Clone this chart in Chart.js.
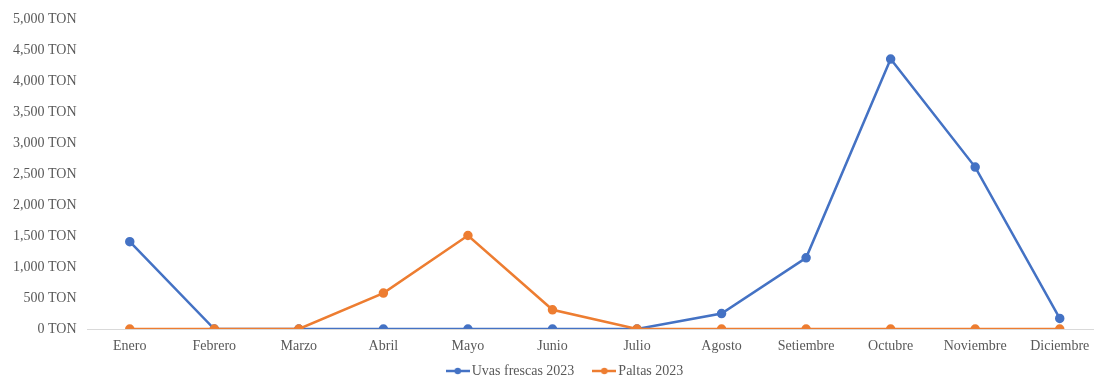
<!DOCTYPE html>
<html>
<head>
<meta charset="utf-8">
<script src="https://cdn.jsdelivr.net/npm/chart.js@4.4.1/dist/chart.umd.min.js"></script>
<style>
  html, body { margin: 0; padding: 0; background: #fff; overflow: hidden; }
  #wrap { width: 1108px; height: 404px; }
</style>
</head>
<body>
<div id="wrap"><canvas id="chart" width="1108" height="404"></canvas></div>
<script>
// Monthly tonnage, 2023
const months = ['Enero', 'Febrero', 'Marzo', 'Abril', 'Mayo', 'Junio', 'Julio', 'Agosto', 'Setiembre', 'Octubre', 'Noviembre', 'Diciembre'];
const uvas = [1410, 0, 0, 0, 0, 0, 0, 250, 1150, 4360, 2615, 170];
const paltas = [0, 0, 0, 580, 1510, 310, 0, 0, 0, 0, 0, 0];
const seriesNames = ['Uvas frescas 2023', 'Paltas 2023'];
const yTicks = [0, 500, 1000, 1500, 2000, 2500, 3000, 3500, 4000, 4500, 5000];

const BLUE = '#4472C4';
const ORANGE = '#ED7D31';
const TEXT = '#595959';
const FONT = { family: '"Liberation Serif", "DejaVu Serif", serif', size: 14 };

// Legend swatch: short line with a dot in the middle
function lineMarker(color) {
  const c = document.createElement('canvas');
  c.width = 24; c.height = 8;
  const g = c.getContext('2d');
  g.strokeStyle = color; g.lineWidth = 2.5;
  g.beginPath(); g.moveTo(0, 4); g.lineTo(24, 4); g.stroke();
  g.fillStyle = color;
  g.beginPath(); g.arc(12, 4, 3.2, 0, Math.PI * 2); g.fill();
  return c;
}

function dataset(label, data, color, order) {
  return {
    label: label,
    data: data,
    borderColor: color,
    backgroundColor: color,
    borderWidth: 2.5,
    pointRadius: 3.5,
    pointHoverRadius: 3.5,
    pointStyle: 'circle',
    tension: 0,
    order: order
  };
}

// move the legend row closer to the axis labels and a bit to the right
const legendShift = {
  id: 'legendShift',
  afterLayout(ch) {
    ch.legend.left += 13;
    ch.legend.right += 13;
    ch.legend.top -= 16;
    ch.legend.bottom -= 16;
  }
};

const chart = new Chart(document.getElementById('chart').getContext('2d'), {
  type: 'line',
  data: {
    labels: months,
    datasets: [
      dataset(seriesNames[0], uvas, BLUE, 1),
      dataset(seriesNames[1], paltas, ORANGE, 0)
    ]
  },
  plugins: [legendShift],
  options: {
    responsive: false,
    animation: false,
    layout: { padding: { top: 19, right: 0, bottom: 0, left: 0 } },
    plugins: {
      tooltip: { enabled: false },
      legend: {
        position: 'bottom',
        labels: {
          color: TEXT,
          font: FONT,
          usePointStyle: true,
          pointStyleWidth: 14,
          padding: 23,
          generateLabels: function (ch) {
            return ch.data.datasets.map((ds, i) => ({
              text: ds.label,
              fontColor: TEXT,
              pointStyle: lineMarker(ds.borderColor),
              strokeStyle: 'transparent',
              fillStyle: 'transparent',
              lineWidth: 0,
              datasetIndex: i,
              hidden: false
            }));
          }
        }
      }
    },
    scales: {
      x: {
        offset: true,
        grid: { display: false, drawTicks: false, offset: true },
        border: { display: true, color: '#D9D9D9', width: 1 },
        ticks: { color: TEXT, font: FONT, padding: 9, maxRotation: 0, autoSkip: false },
        afterFit: function (axis) { axis.height = 28; }
      },
      y: {
        min: 0,
        max: 5000,
        grid: { display: false, drawTicks: false },
        border: { display: false },
        afterBuildTicks: function (axis) { axis.ticks = yTicks.map(v => ({ value: v })); },
        ticks: {
          color: TEXT,
          font: FONT,
          padding: 11,
          callback: v => v.toLocaleString('en-US') + ' TON'
        },
        afterFit: function (axis) { axis.width = 87.5; }
      }
    }
  }
});
</script>
</body>
</html>
